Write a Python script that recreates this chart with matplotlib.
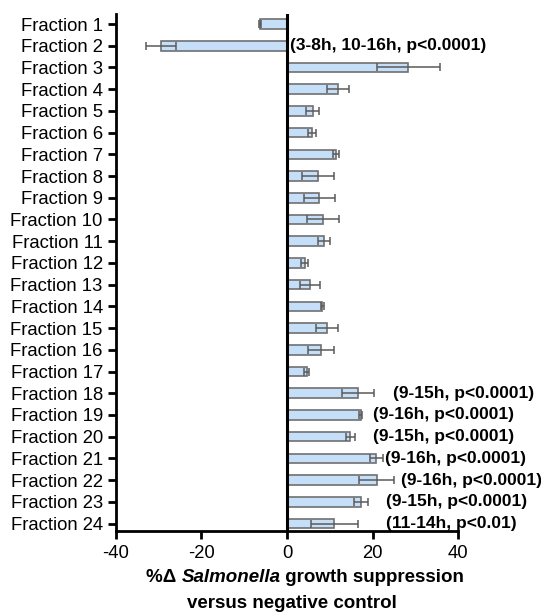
import numpy as np
import matplotlib.pyplot as plt

plt.rcParams['font.family'] = ['Liberation Sans', 'DejaVu Sans']

# data
fractions = [f"Fraction {i}" for i in range(1, 25)]
means = [-6.3, -29.5, 28.4, 11.9, 6.0, 5.8, 11.4, 7.2, 7.6, 8.4, 8.6, 4.1,
         5.4, 8.3, 9.3, 7.9, 4.6, 16.6, 17.2, 14.8, 20.9, 21.0, 17.3, 11.1]
errors = [0.3, 3.5, 7.3, 2.6, 1.5, 0.9, 0.7, 3.7, 3.7, 3.7, 1.4, 0.8,
          2.3, 0.3, 2.6, 3.0, 0.6, 3.7, 0.3, 1.0, 1.5, 4.1, 1.6, 5.5]
notes = {2: "(3-8h, 10-16h, p<0.0001)",
         18: "(9-15h, p<0.0001)", 19: "(9-16h, p<0.0001)",
         20: "(9-15h, p<0.0001)", 21: "(9-16h, p<0.0001)",
         22: "(9-16h, p<0.0001)", 23: "(9-15h, p<0.0001)",
         24: "(11-14h, p<0.01)"}
note_x = {2: 0.65, 18: 24.9, 19: 20.0, 20: 20.0, 21: 23.0, 22: 26.7,
          23: 23.2, 24: 23.2}

fig = plt.figure(figsize=(5.41, 6.12), dpi=100)
ax = fig.add_axes([0.2144, 0.1324, 0.6322, 0.8447])

y = np.arange(len(fractions))
ax.barh(y, means, height=0.44, color="#C6DFF8", edgecolor="#707070",
        linewidth=1.2, zorder=2)
ax.errorbar(means, y, xerr=errors, fmt="none", ecolor="#5a5a5a",
            elinewidth=1.1, capsize=3, capthick=1.1, zorder=3)
ax.axvline(0, color="black", linewidth=2.2, zorder=4)

for k, txt in notes.items():
    ax.text(note_x[k], k - 1, txt, fontsize=12.5, fontweight="bold",
            va="center", ha="left", clip_on=False)

ax.set_ylim(23.34, -0.46)
ax.set_xlim(-40, 40)
ax.set_xticks([-40, -20, 0, 20, 40])
ax.set_xticklabels(["-40", "-20", "0", "20", "40"])
ax.set_yticks(y)
ax.set_yticklabels(fractions)

for s in ["top", "right"]:
    ax.spines[s].set_visible(False)
for s in ["left", "bottom"]:
    ax.spines[s].set_linewidth(2.0)
ax.tick_params(axis="y", length=6, width=2.0, pad=3.5, labelsize=13.3)
ax.tick_params(axis="x", length=6, width=2.0, pad=4, labelsize=13.3)

# two-line x label with italic genus name
y1 = 1 - 577 / 612
y2 = 1 - 603 / 612
parts = [("%Δ ", "normal"), ("Salmonella", "italic"),
         (" growth suppression", "normal")]
texts = []
for s, st in parts:
    t = fig.text(0, y1, s, fontsize=13.5, fontweight="bold", fontstyle=st,
                 va="center", ha="left")
    texts.append(t)
fig.canvas.draw()
r = fig.canvas.get_renderer()
widths = [tt.get_window_extent(r).width for tt in texts]
total = sum(widths)
x0 = 305 - total / 2
for tt, w in zip(texts, widths):
    tt.set_x(x0 / 541)
    x0 += w
fig.text(292 / 541, y2, "versus negative control", fontsize=13.5,
         fontweight="bold", va="center", ha="center")

plt.savefig("out.png", dpi=100)
